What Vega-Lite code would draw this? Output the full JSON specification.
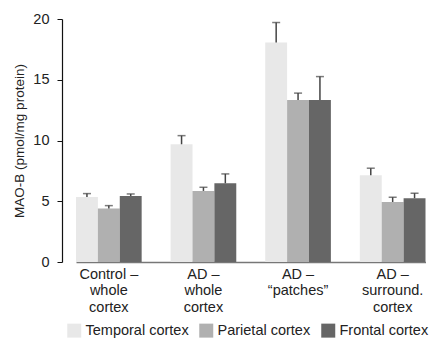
{
  "$schema": "https://vega.github.io/schema/vega-lite/v6.json",
  "autosize": "none",
  "padding": {"left": 62, "top": 19, "right": 0, "bottom": 76},
  "width": 370,
  "height": 243,
  "background": "white",
  "config": {
    "font": "Liberation Sans",
    "view": {"stroke": null}
  },
  "data": {
    "values": [
      {"group": "Control –|whole|cortex", "region": "Temporal cortex", "value": 5.35, "upper": 5.63},
      {"group": "Control –|whole|cortex", "region": "Parietal cortex", "value": 4.4, "upper": 4.64},
      {"group": "Control –|whole|cortex", "region": "Frontal cortex", "value": 5.43, "upper": 5.6},
      {"group": "AD –|whole|cortex", "region": "Temporal cortex", "value": 9.69, "upper": 10.4},
      {"group": "AD –|whole|cortex", "region": "Parietal cortex", "value": 5.85, "upper": 6.15},
      {"group": "AD –|whole|cortex", "region": "Frontal cortex", "value": 6.48, "upper": 7.25},
      {"group": "AD –|“patches”", "region": "Temporal cortex", "value": 18.06, "upper": 19.71},
      {"group": "AD –|“patches”", "region": "Parietal cortex", "value": 13.34, "upper": 13.9},
      {"group": "AD –|“patches”", "region": "Frontal cortex", "value": 13.34, "upper": 15.26},
      {"group": "AD –|surround.|cortex", "region": "Temporal cortex", "value": 7.14, "upper": 7.72},
      {"group": "AD –|surround.|cortex", "region": "Parietal cortex", "value": 4.94, "upper": 5.33},
      {"group": "AD –|surround.|cortex", "region": "Frontal cortex", "value": 5.25, "upper": 5.66}
    ]
  },
  "encoding": {
    "x": {
      "field": "group",
      "type": "nominal",
      "sort": null,
      "scale": {"paddingInner": 0.306, "paddingOuter": 0, "range": [14, 363.5]},
      "axis": {
        "title": null,
        "labelAngle": 0,
        "labelExpr": "split(datum.label, '|')",
        "labelFontSize": 14.5,
        "labelColor": "#222",
        "labelLineHeight": 16.5,
        "labelPadding": 5,
        "ticks": false,
        "domainColor": "#777",
        "domainWidth": 1.5,
        "labelBaseline": "top"
      }
    },
    "xOffset": {
      "field": "region",
      "type": "nominal",
      "sort": ["Temporal cortex", "Parietal cortex", "Frontal cortex"]
    }
  },
  "layer": [
    {
      "mark": {"type": "bar"},
      "encoding": {
        "y": {
          "field": "value",
          "type": "quantitative",
          "scale": {"domain": [0, 20], "nice": false},
          "axis": {
            "title": "MAO-B (pmol/mg protein)",
            "titleFontSize": 13.5,
            "titleFontWeight": "normal",
            "titleColor": "#222",
            "titlePadding": 6,
            "values": [0, 5, 10, 15, 20],
            "grid": false,
            "labelFontSize": 14.5,
            "labelColor": "#222",
            "labelPadding": 8,
            "tickSize": 5,
            "tickColor": "#111",
            "domainColor": "#111",
            "domainWidth": 1.2
          }
        },
        "color": {
          "field": "region",
          "type": "nominal",
          "sort": ["Temporal cortex", "Parietal cortex", "Frontal cortex"],
          "scale": {
            "domain": ["Temporal cortex", "Parietal cortex", "Frontal cortex"],
            "range": ["#e8e8e8", "#b0b0b0", "#666666"]
          },
          "legend": {
            "title": null,
            "orient": "none",
            "direction": "horizontal",
            "legendX": 5,
            "legendY": 304,
            "symbolType": "square",
            "symbolSize": 196,
            "symbolStrokeWidth": 0,
            "labelFontSize": 14.5,
            "labelColor": "#222",
            "labelOffset": 4,
            "columnPadding": 10
          }
        }
      }
    },
    {
      "mark": {"type": "rule", "color": "#444", "strokeWidth": 1.5},
      "encoding": {
        "y": {"field": "value", "type": "quantitative"},
        "y2": {"field": "upper"}
      }
    },
    {
      "mark": {"type": "tick", "color": "#444", "thickness": 1.5, "size": 8},
      "encoding": {
        "y": {"field": "upper", "type": "quantitative"}
      }
    }
  ]
}
